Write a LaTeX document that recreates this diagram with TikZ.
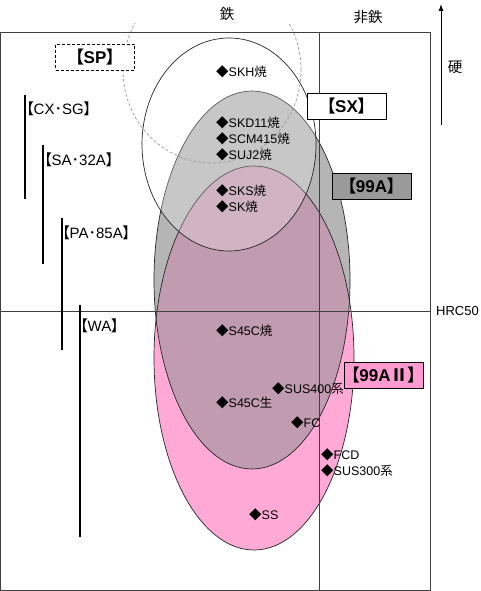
\documentclass[tikz,border=0pt]{standalone}
\usepackage{fontspec}
\setmainfont{Liberation Sans}
\newfontfamily\cjk[RawFeature=+palt]{Noto Sans CJK JP}
\newcommand\jp[1]{{\cjk #1}}
\usetikzlibrary{arrows.meta}
\definecolor{greyA}{HTML}{B5B5B5}
\definecolor{pinkB}{HTML}{FFAAD6}
\definecolor{mauve}{HTML}{C19BAF}
\definecolor{boxgrey}{HTML}{9A9A9A}
\definecolor{boxpink}{HTML}{FF9BD0}
\begin{document}
\begin{tikzpicture}[x=1pt,y=-1pt,
 mk/.style={anchor=west,inner sep=0pt,font=\fontsize{12.5}{13}\selectfont},
 side/.style={anchor=west,inner sep=0pt,font=\fontsize{15}{16}\selectfont},
 tag/.style={draw=black,line width=0.8pt,minimum width=79pt,minimum height=26pt,inner sep=0pt,font=\bfseries\fontsize{17}{18}\selectfont},
 bar/.style={line width=2pt,black},
 gridline/.style={line width=0.8pt,black!75},
 ell/.style={line width=0.7pt,black!85}]
\useasboundingbox (0,0) rectangle (480,591);
\fill[white] (0,0) rectangle (480,591);
% ellipses 99A (grey) and 99A II (pink)
\fill[greyA] (252,280) ellipse [x radius=98pt, y radius=189pt];
\fill[pinkB] (254,358) ellipse [x radius=100pt, y radius=192pt];
\begin{scope}
\clip (252,280) ellipse [x radius=98pt, y radius=189pt];
\fill[mauve] (254,358) ellipse [x radius=100pt, y radius=192pt];
\end{scope}
\draw[ell] (252,280) ellipse [x radius=98pt, y radius=189pt];
\draw[ell] (254,358) ellipse [x radius=100pt, y radius=192pt];
% SX ellipse
\filldraw[fill=white, fill opacity=0.25, draw=black!85, line width=0.7pt] (229,144.5) ellipse [x radius=87pt, y radius=106.5pt];
% SP dashed ellipse
\begin{scope}
\clip (0,24) rectangle (480,591);
\draw[black!40, line width=0.7pt, dash pattern=on 3pt off 2pt] (212,70) ellipse [x radius=89pt, y radius=93pt];
\end{scope}
% grid
\draw[gridline] (0.5,32) rectangle (430,590);
\draw[gridline] (319,32) -- (319,590);
\draw[gridline] (0.5,311) -- (430,311);
% markers
\node[mk] (skh) at (216,72) {\jp{◆}SKH\jp{焼}};
\node[mk] (skd) at (216,123) {\jp{◆}SKD11\jp{焼}};
\node[mk] (scm) at (216,139) {\jp{◆}SCM415\jp{焼}};
\node[mk] (suj) at (216,155) {\jp{◆}SUJ2\jp{焼}};
\node[mk] (sks) at (216,191) {\jp{◆}SKS\jp{焼}};
\node[mk] (sk) at (216,207) {\jp{◆}SK\jp{焼}};
\node[mk] (s45y) at (216,331) {\jp{◆}S45C\jp{焼}};
\node[mk] (sus4) at (272,389) {\jp{◆}SUS400\jp{系}};
\node[mk] (s45n) at (216,403) {\jp{◆}S45C\jp{生}};
\node[mk] (fc) at (291,423) {\jp{◆}FC};
\node[mk] (fcd) at (321,455) {\jp{◆}FCD};
\node[mk] (sus3) at (321,471) {\jp{◆}SUS300\jp{系}};
\node[mk] (ss) at (249,515) {\jp{◆}SS};
% tags
\node[tag, fill=white, dash pattern=on 3pt off 2pt] (sp) at (95,57.5) {\jp{【}SP\jp{】}};
\node[tag, fill=white] (sx) at (346.5,106) {\jp{【}SX\jp{】}};
\node[tag, fill=boxgrey] (a99) at (371.5,186) {\jp{【}99A\jp{】}};
\node[tag, fill=boxpink] (a99b) at (383.5,375) {\jp{【}99A\jp{Ⅱ】}};
% side bars
\coordinate (cxT) at (25,95); \coordinate (cxB) at (25,199);
\coordinate (saT) at (43,145); \coordinate (saB) at (43,264);
\coordinate (paT) at (62,218); \coordinate (paB) at (62,350);
\coordinate (waT) at (80,305); \coordinate (waB) at (80,537);
\draw[bar] (cxT) -- (cxB);
\draw[bar] (saT) -- (saB);
\draw[bar] (paT) -- (paB);
\draw[bar] (waT) -- (waB);
\node[side] (cx) at (26,109) {\jp{【}CX\jp{･}SG\jp{】}};
\node[side] (sa) at (44,160) {\jp{【}SA\jp{･}32A\jp{】}};
\node[side] (pa) at (62,233) {\jp{【}PA\jp{･}85A\jp{】}};
\node[side] (wa) at (80,326) {\jp{【}WA\jp{】}};
% top labels and arrow
\node[font=\fontsize{14.5}{15}\selectfont] (tetsu) at (227,14) {\jp{鉄}};
\node[font=\fontsize{14.5}{15}\selectfont] (hitetsu) at (368,17) {\jp{非鉄}};
\node[font=\fontsize{14.5}{15}\selectfont] (kou) at (455,67) {\jp{硬}};
\node[anchor=west, inner sep=0pt, font=\fontsize{13}{14}\selectfont] (hrc) at (436,311) {HRC50};
\coordinate (arB) at (441,125); \coordinate (arT) at (441,4);
\draw[line width=0.9pt, -{Latex[length=7pt,width=5pt]}] (arB) -- (arT);
\end{tikzpicture}
\end{document}
